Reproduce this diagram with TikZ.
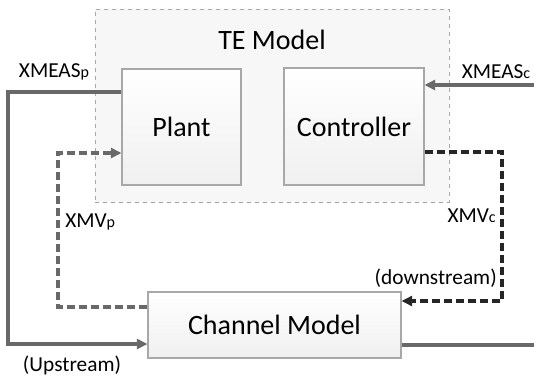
\documentclass[tikz,border=0pt]{standalone}
\usepackage{fontspec}
\setmainfont{Carlito}
\usetikzlibrary{arrows.meta}
\definecolor{linegray}{HTML}{696969}
\definecolor{boxgray}{HTML}{A8A8A8}
\newcommand{\sub}[1]{{\fontsize{12}{14}\selectfont #1}}
\tikzset{
    block/.style={draw=boxgray, line width=0.8pt, top color=white, bottom color=gray!12, font=\fontsize{21}{25}\selectfont, inner sep=0pt},
    flow/.style={line width=2.4pt, draw=linegray},
    ctrlflow/.style={line width=2.4pt, draw=black!85, dash pattern=on 6pt off 3pt},
    plantflow/.style={line width=2.4pt, draw=linegray, dash pattern=on 6pt off 3pt},
    tip/.style={-{Triangle[length=8pt,width=7.5pt]}},
    lbl/.style={font=\fontsize{16}{19}\selectfont, inner sep=0pt}
}
\begin{document}
\begin{tikzpicture}[x=0.75pt, y=-0.75pt]
    \useasboundingbox (0,0) rectangle (534,378);

    % TE model frame
    \node[draw=boxgray, dashed, fill=gray!6, minimum width=265.5pt, minimum height=144.75pt, inner sep=0pt] (te) at (272,105.5) {};
    \node[font=\fontsize{21}{25}\selectfont] (tetitle) at (272,40) {TE Model};

    % Blocks
    \node[block, minimum width=89.25pt, minimum height=87pt] (plant) at (181.5,127) {Plant};
    \node[block, minimum width=105pt, minimum height=87.75pt] (ctrl) at (354,126.5) {Controller};
    \node[block, minimum width=189.75pt, minimum height=49.5pt] (chan) at (274.5,325) {Channel Model};

    % Bend points
    \coordinate (ul) at (8,92);
    \coordinate (ll) at (8,344);
    \coordinate (ur) at (534,85);
    \coordinate (lr) at (534,345);
    \coordinate (cr) at (502,152);
    \coordinate (cd) at (502,301);
    \coordinate (pl) at (58,153);
    \coordinate (pd) at (58,307);

    % Measurements
    \draw[flow, tip] (plant.west |- ul) -- (ul) -- (ll) -- (chan.west |- ll);
    \draw[flow, tip] (ur) -- (ctrl.east |- ur);
    \draw[flow] (chan.east |- lr) -- (lr);

    % Manipulated variables
    \draw[ctrlflow, tip] (ctrl.east |- cr) -- (cr) -- (cd) -- (chan.east |- cd);
    \draw[plantflow, tip] (chan.west |- pd) -- (pd) -- (pl) -- (plant.west |- pl);

    % Labels
    \node[lbl] (xmeasp) at (54,72) {XMEAS\sub{p}};
    \node[lbl] (xmeasc) at (496,72) {XMEAS\sub{c}};
    \node[lbl, anchor=west] (xmvp) at (65,222) {XMV\sub{p}};
    \node[lbl, anchor=east] (xmvc) at (496,216) {XMV\sub{c}};
    \node[lbl, anchor=east] (down) at (497,278) {(downstream)};
    \node[lbl] (up) at (72,365) {(Upstream)};
\end{tikzpicture}
\end{document}
